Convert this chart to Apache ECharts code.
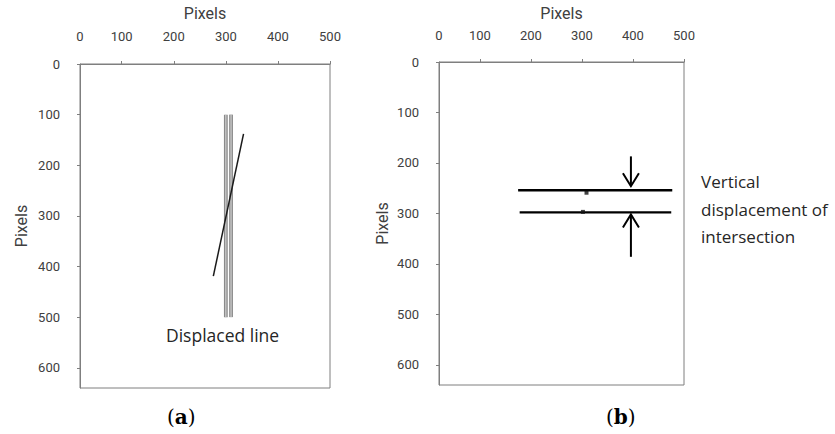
<!DOCTYPE html>
<html><head><meta charset="utf-8">
<script src="https://cdn.jsdelivr.net/npm/echarts@6/dist/echarts.min.js"></script>
<style>html,body{margin:0;padding:0;background:#fff}#c{width:835px;height:434px}</style>
</head><body><div id="c"></div><script>
// axes
const xRange = [20, 500];
const yRange = [0, 640];
const xTickValues = [20, 100, 200, 300, 400, 500];
const xTickLabels = ['0', '100', '200', '300', '400', '500'];
const yTickValues = [0, 100, 200, 300, 400, 500, 600];
const axisName = 'Pixels';

// panel (a)
const originalLineA = [[300, 100], [300, 500]];
const originalLineB = [[310, 100], [310, 500]];
const displacedLine = [[334, 138], [276, 419]];
// panel (b)
const upperLine = [[175, 254], [477, 254]];
const lowerLine = [[178, 298], [475, 298]];
const intersections = [[309, 259], [302, 297]];
const arrows = [[396, 187, 246], [396, 386, 302]]; // x, tail y, tip y

const GREY = '#7f7f7f';
const TXT = '#404040';
const AXFONT = 'Roboto';

function xAxisFor(gi, gap, margin) {
  return {
    gridIndex: gi, type: 'value', position: 'top', min: xRange[0], max: xRange[1],
    name: axisName, nameLocation: 'middle', nameGap: gap,
    nameTextStyle: { fontFamily: AXFONT, fontSize: 16, color: TXT },
    axisLine: { show: true, lineStyle: { color: GREY, width: 1 } },
    axisTick: { show: true, length: 3, customValues: xTickValues.slice(1), lineStyle: { color: GREY } },
    axisLabel: { customValues: xTickValues, margin: margin, fontFamily: AXFONT, fontSize: 13, color: TXT,
      formatter: v => xTickLabels[xTickValues.indexOf(v)] },
    splitLine: { show: false }
  };
}
function yAxisFor(gi, gap) {
  return {
    gridIndex: gi, type: 'value', inverse: true, min: yRange[0], max: yRange[1],
    name: axisName, nameLocation: 'middle', nameGap: gap, nameRotate: 90,
    nameTextStyle: { fontFamily: AXFONT, fontSize: 16, color: TXT },
    axisLine: { show: true, lineStyle: { color: GREY, width: 1 } },
    axisTick: { show: true, length: 3, customValues: yTickValues, lineStyle: { color: GREY } },
    axisLabel: { customValues: yTickValues, margin: 20, fontFamily: AXFONT, fontSize: 13, color: TXT },
    splitLine: { show: false }
  };
}
function seg(data, gi, color, width, z) {
  return { type: 'line', xAxisIndex: gi, yAxisIndex: gi, data: data, symbol: 'none', silent: true, z: z || 2,
    lineStyle: { color: color, width: width }, animation: false };
}

const chart = echarts.init(document.getElementById('c'), null, { renderer: 'svg' });
chart.setOption({
  animation: false,
  backgroundColor: '#fff',
  grid: [
    { left: 80, top: 58, width: 250, height: 330, show: true, borderColor: GREY, borderWidth: 1, backgroundColor: 'transparent' },
    { left: 439, top: 60, width: 245, height: 325, show: true, borderColor: GREY, borderWidth: 1, backgroundColor: 'transparent' }
  ],
  xAxis: [xAxisFor(0, 43, 21), xAxisFor(1, 41, 20)],
  yAxis: [yAxisFor(0, 51), yAxisFor(1, 49)],
  series: [
    seg(originalLineA, 0, '#8a8a8a', 3.8, 2),
    seg(originalLineA, 0, '#d0d0d0', 1.2, 3),
    seg(originalLineB, 0, '#8a8a8a', 3.8, 2),
    seg(originalLineB, 0, '#d0d0d0', 1.2, 3),
    seg(displacedLine, 0, '#1a1a1a', 1.5, 4),
    seg(upperLine, 1, '#000', 2.4, 2),
    seg(lowerLine, 1, '#000', 2.4, 2),
    { type: 'scatter', xAxisIndex: 1, yAxisIndex: 1, data: intersections, symbol: 'rect', symbolSize: 4,
      itemStyle: { color: '#111' }, silent: true, z: 5 },
    { type: 'custom', xAxisIndex: 1, yAxisIndex: 1, data: arrows, silent: true, z: 6,
      encode: { x: 0, y: [1, 2] },
      renderItem: function (params, api) {
        const tail = api.coord([api.value(0), api.value(1)]);
        const tip = api.coord([api.value(0), api.value(2)]);
        const dir = tip[1] > tail[1] ? 1 : -1;
        return { type: 'group', children: [
          { type: 'line', shape: { x1: tail[0], y1: tail[1], x2: tip[0], y2: tip[1] }, style: { stroke: '#000', lineWidth: 2 } },
          { type: 'polyline', shape: { points: [[tip[0] - 8, tip[1] - dir * 13], [tip[0], tip[1]], [tip[0] + 8, tip[1] - dir * 13]] },
            style: { stroke: '#000', lineWidth: 2, fill: null } }
        ] };
      } }
  ],
  graphic: [
    { type: 'text', left: 166, top: 326, style: { text: 'Displaced line', font: '17.5px "Open Sans"', fill: '#262626' } },
    { type: 'text', left: 701, top: 168, style: { text: 'Vertical\ndisplacement of\nintersection', font: '17px "Open Sans"', fill: '#262626', lineHeight: 27.5 } },
    { type: 'text', left: 167, top: 407, style: { text: '({b|a})', font: '20px "DejaVu Serif"', fill: '#000',
      rich: { b: { fontWeight: 'bold', fontFamily: 'DejaVu Serif', fontSize: 20 } } } },
    { type: 'text', left: 606, top: 407, style: { text: '({b|b})', font: '20px "DejaVu Serif"', fill: '#000',
      rich: { b: { fontWeight: 'bold', fontFamily: 'DejaVu Serif', fontSize: 20 } } } }
  ]
});
</script></body></html>
